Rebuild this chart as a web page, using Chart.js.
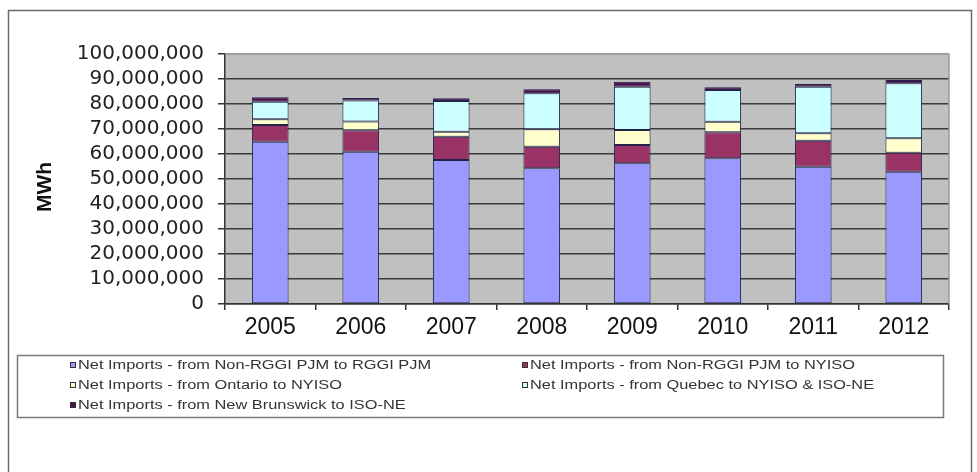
<!DOCTYPE html>
<html>
<head>
<meta charset="utf-8">
<title>Net Imports into the RGGI Region</title>
<script src="https://cdn.jsdelivr.net/npm/chart.js@4.4.1/dist/chart.umd.min.js"></script>
<style>
  html, body { margin: 0; padding: 0; background: #ffffff; }
  canvas { display: block; }
</style>
</head>
<body>
<canvas id="chart" width="977" height="472"></canvas>
<script>
// Annual net imports by source, in MWh
const years = ['2005', '2006', '2007', '2008', '2009', '2010', '2011', '2012'];
const pjmToRggiPjm     = [64900000, 60900000, 57600000, 54300000, 56300000, 58300000, 54900000, 52900000];
const pjmToNyiso       = [6700000, 8600000, 9300000, 8600000, 7300000, 10400000, 10400000, 7600000];
const ontarioToNyiso   = [2300000, 3500000, 2000000, 7000000, 6000000, 4200000, 3000000, 5800000];
const quebecToNyisoNe  = [7000000, 8400000, 12300000, 14400000, 17300000, 12700000, 18600000, 22000000];
const brunswickToIsoNe = [1800000, 1000000, 1100000, 1600000, 2000000, 1100000, 1100000, 1300000];

const seriesNames = [
  'Net Imports - from Non-RGGI PJM to RGGI PJM',
  'Net Imports - from Non-RGGI PJM to NYISO',
  'Net Imports - from Ontario to NYISO',
  'Net Imports - from Quebec to NYISO & ISO-NE',
  'Net Imports - from New Brunswick to ISO-NE'
];
const seriesColors = ['#9999FF', '#993366', '#FFFFCC', '#CCFFFF', '#4d0f4d'];

const yMin = 0, yMax = 100000000, yStep = 10000000;

const seriesValues = [pjmToRggiPjm, pjmToNyiso, ontarioToNyiso, quebecToNyisoNe, brunswickToIsoNe];

const datasets = seriesValues.map((values, i) => ({
  label: seriesNames[i],
  data: values,
  backgroundColor: seriesColors[i],
  borderColor: '#22224a',
  borderWidth: 1,
  borderSkipped: false,
  barPercentage: 0.405,
  categoryPercentage: 1.0
}));

// Gray plot area, outer frame and plot edge
const chartDecor = {
  id: 'chartDecor',
  beforeDraw(chart) {
    const { ctx, chartArea: a } = chart;
    ctx.save();
    ctx.fillStyle = '#ffffff';
    ctx.fillRect(0, 0, chart.width, chart.height);
    ctx.strokeStyle = '#6a6a6a';
    ctx.lineWidth = 1.5;
    ctx.strokeRect(8.5, 10.5, 963, 480);
    ctx.fillStyle = '#C0C0C0';
    ctx.fillRect(a.left, a.top, a.right - a.left, a.bottom - a.top);
    ctx.restore();
  },
  beforeDatasetsDraw(chart) {
    const { ctx, chartArea: a } = chart;
    ctx.save();
    ctx.strokeStyle = '#9a9a9a';
    ctx.lineWidth = 1.5;
    ctx.beginPath();
    ctx.moveTo(a.left, a.top);
    ctx.lineTo(a.right, a.top);
    ctx.lineTo(a.right, a.bottom);
    ctx.stroke();
    ctx.restore();
  }
};

// Axis title and two-column boxed legend
const legendAndTitle = {
  id: 'legendAndTitle',
  afterDraw(chart) {
    const { ctx } = chart;
    ctx.save();
    ctx.translate(45, 187);
    ctx.rotate(-Math.PI / 2);
    ctx.font = 'bold 21px "Liberation Sans", Arial, sans-serif';
    ctx.fillStyle = '#111111';
    ctx.textAlign = 'center';
    ctx.textBaseline = 'middle';
    ctx.fillText('MWh', 0, 0);
    ctx.restore();

    ctx.save();
    ctx.strokeStyle = '#7a7a7a';
    ctx.lineWidth = 1.5;
    ctx.strokeRect(17.5, 355.5, 926, 62);
    const colX = [70, 522];
    const rowY = [365, 385, 405];
    ctx.font = '13px "Liberation Sans", Arial, sans-serif';
    ctx.textBaseline = 'middle';
    chart.data.datasets.forEach((ds, i) => {
      const x = colX[i % 2];
      const y = rowY[Math.floor(i / 2)];
      ctx.fillStyle = ds.backgroundColor;
      ctx.fillRect(x, y - 3, 6, 6);
      ctx.strokeStyle = '#333333';
      ctx.lineWidth = 1;
      ctx.strokeRect(x + 0.5, y - 2.5, 5, 5);
      ctx.save();
      ctx.translate(x + 8, y);
      ctx.scale(1.26, 1);
      ctx.fillStyle = '#333333';
      ctx.fillText(ds.label, 0, 0);
      ctx.restore();
    });
    ctx.restore();
  }
};

new Chart(document.getElementById('chart'), {
  type: 'bar',
  data: { labels: years, datasets },
  options: {
    responsive: false,
    animation: false,
    devicePixelRatio: 1,
    layout: { padding: { left: 0, top: 54, right: 28, bottom: 128 } },
    plugins: {
      legend: { display: false },
      tooltip: { enabled: false }
    },
    scales: {
      x: {
        stacked: true,
        offset: true,
        grid: {
          display: true,
          offset: true,
          drawOnChartArea: false,
          drawTicks: true,
          tickLength: 6,
          color: '#333333',
          lineWidth: 1.5
        },
        border: { display: true, color: '#333333', width: 1.5 },
        ticks: {
          color: '#111111',
          padding: 4,
          maxRotation: 0,
          autoSkip: false,
          font: { family: '"Liberation Sans", Arial, sans-serif', size: 23 }
        },
        afterFit(scale) { scale.height = 40; }
      },
      y: {
        stacked: true,
        min: yMin,
        max: yMax,
        grid: {
          color: (c) => (c.tick && c.tick.value === yMax ? '#a0a0a0' : '#3a3a3a'),
          lineWidth: 1.5,
          drawTicks: true,
          tickLength: 7,
          tickColor: '#333333'
        },
        border: { display: true, color: '#333333', width: 1.5 },
        ticks: {
          stepSize: yStep,
          autoSkip: false,
          padding: 14,
          color: '#222222',
          font: { family: '"DejaVu Sans", sans-serif', size: 20 },
          callback: (v) => Number(v).toLocaleString('en-US')
        },
        afterFit(scale) { scale.width = 225; }
      }
    }
  },
  plugins: [chartDecor, legendAndTitle]
});
</script>
</body>
</html>
